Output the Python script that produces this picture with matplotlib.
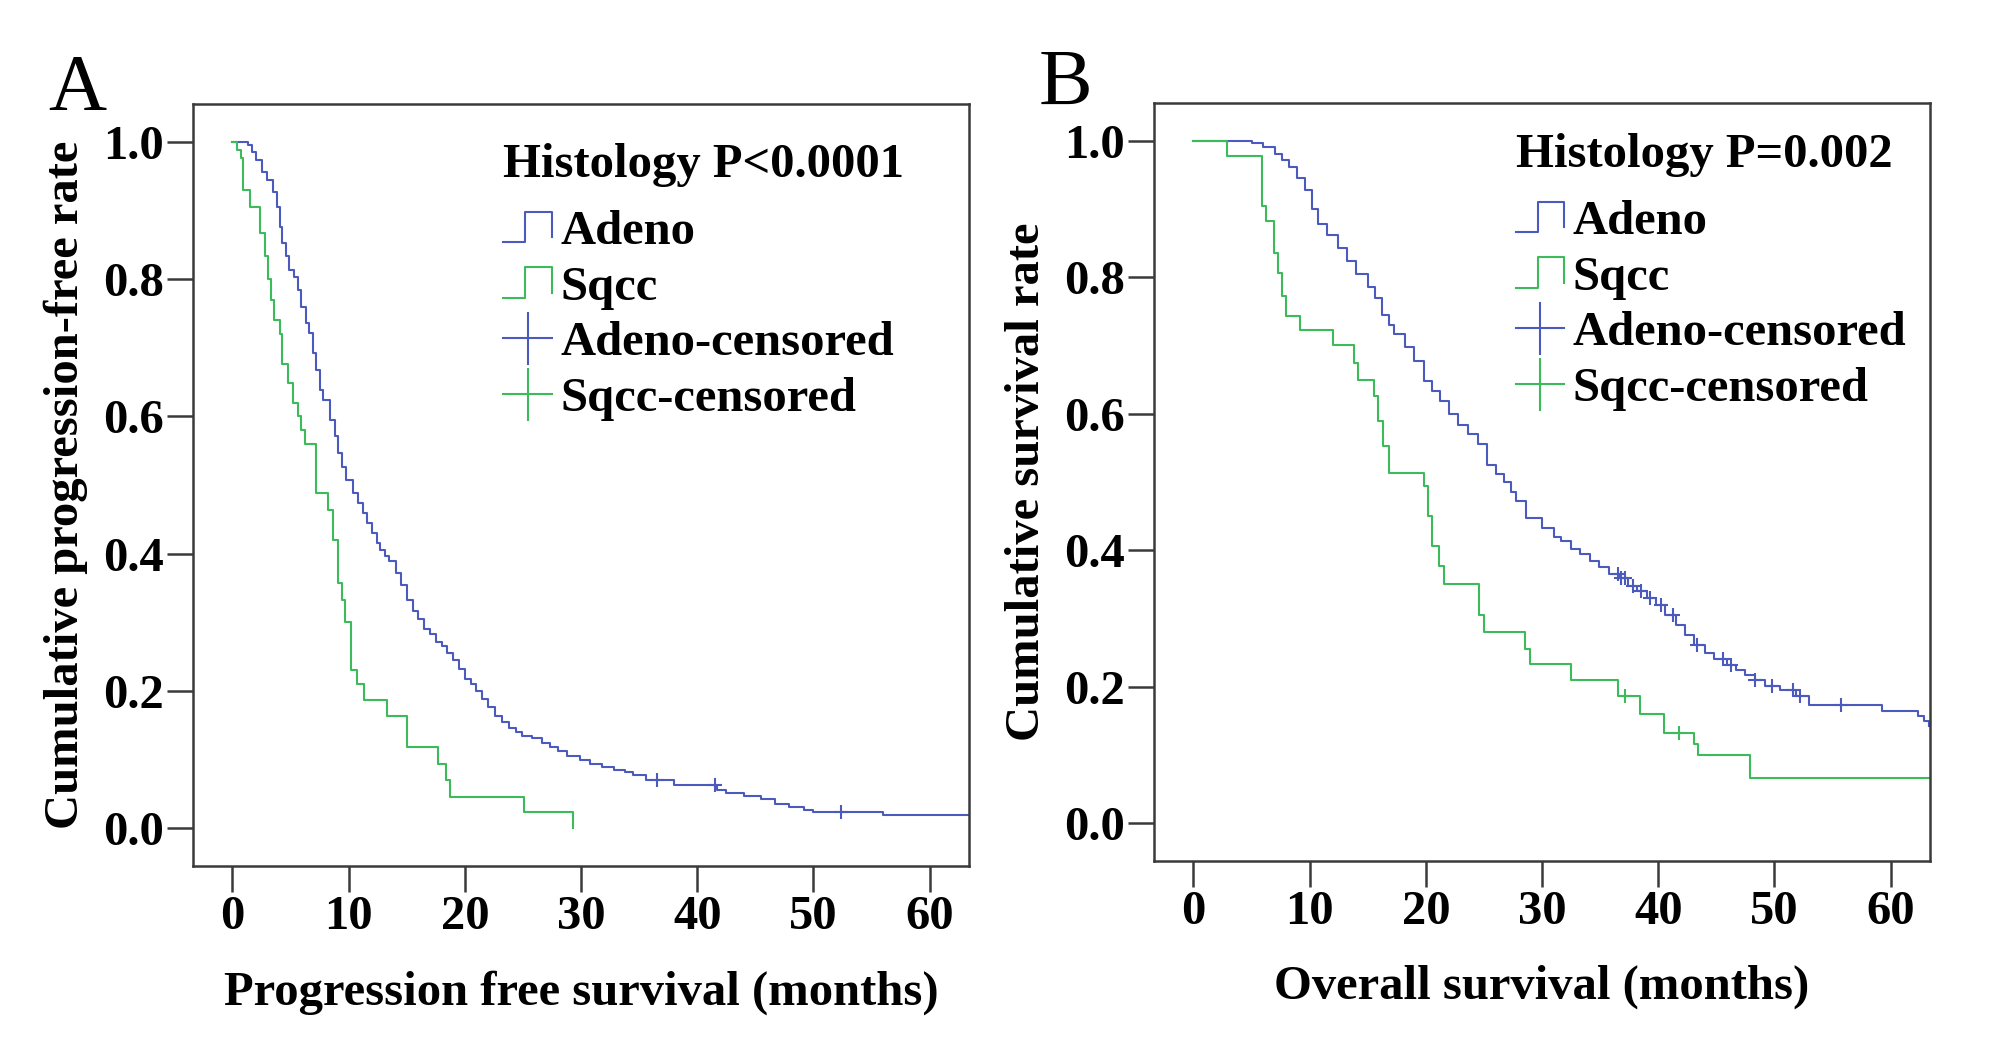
import numpy as np
import matplotlib
matplotlib.use("Agg")
import matplotlib.pyplot as plt
from matplotlib.lines import Line2D
from matplotlib.legend_handler import HandlerBase

plt.rcParams['font.family'] = ['Liberation Serif', 'DejaVu Serif']
plt.rcParams['font.weight'] = 'bold'

BLUE = "#4b5bbd"
GREEN = "#3dba5a"
SPINE = "#3a3a3a"

# Panel A - progression free survival (months, cumulative rate after each step)
pfs_adeno_t = [0, 1.3, 1.7, 2.0, 2.5, 3.0, 3.5, 3.8, 4.05, 4.3, 4.6, 4.9, 5.3, 5.6, 5.9,
               6.35, 6.6, 6.9, 7.2, 7.5, 7.8, 8.4, 8.8, 9.1, 9.4, 9.8, 10.4, 10.8, 11.2,
               11.6, 12.0, 12.4, 12.7, 13.1, 13.5, 14.1, 14.5, 15.0, 15.5, 16.0, 16.5,
               17.0, 17.5, 18.0, 18.5, 19.0, 19.5, 20.0, 20.5, 21.0, 21.5, 22.0, 22.6,
               23.2, 23.8, 24.4, 24.9, 25.8, 26.6, 27.3, 28.0, 28.8, 29.9, 30.8, 31.8,
               32.8, 33.8, 34.5, 35.6, 38.0, 41.7, 42.5, 44.0, 45.5, 46.7, 47.9, 49.2,
               50.0, 56.0, 63.4]
pfs_adeno_s = [1.0, 0.995, 0.985, 0.973, 0.956, 0.944, 0.927, 0.905, 0.876, 0.852, 0.833,
               0.813, 0.803, 0.784, 0.76, 0.736, 0.721, 0.692, 0.668, 0.639, 0.624, 0.595,
               0.571, 0.546, 0.527, 0.508, 0.488, 0.474, 0.459, 0.445, 0.43, 0.416, 0.406,
               0.397, 0.389, 0.372, 0.355, 0.333, 0.317, 0.305, 0.29, 0.283, 0.272, 0.265,
               0.256, 0.245, 0.232, 0.217, 0.21, 0.2, 0.188, 0.176, 0.164, 0.155, 0.146,
               0.14, 0.135, 0.131, 0.124, 0.119, 0.113, 0.106, 0.099, 0.094, 0.09, 0.085,
               0.082, 0.077, 0.070, 0.063, 0.056, 0.051, 0.047, 0.043, 0.036, 0.031, 0.026,
               0.024, 0.019, 0.019]
pfs_adeno_cens = [36.5, 41.5, 52.4]

pfs_sqcc_t = [0, 0.4, 0.75, 0.9, 1.5, 2.4, 2.8, 3.05, 3.3, 3.6, 4.05, 4.3, 4.8, 5.2, 5.6,
              5.9, 6.2, 7.2, 8.2, 8.65, 9.1, 9.4, 9.65, 10.2, 10.75, 11.3, 13.3, 15.0,
              17.7, 18.4, 18.7, 25.1, 29.3]
pfs_sqcc_s = [1.0, 0.988, 0.976, 0.93, 0.905, 0.867, 0.833, 0.80, 0.77, 0.74, 0.72, 0.677,
              0.648, 0.619, 0.60, 0.58, 0.56, 0.488, 0.464, 0.42, 0.357, 0.333, 0.30, 0.23,
              0.21, 0.187, 0.163, 0.118, 0.094, 0.07, 0.046, 0.023, 0.0]
pfs_sqcc_cens = []

# Panel B - overall survival
os_adeno_t = [0, 5.0, 6.0, 7.0, 7.6, 8.2, 8.9, 9.6, 10.2, 10.7, 11.5, 12.4, 13.2, 14.0,
              15.0, 15.6, 16.2, 16.8, 17.3, 18.2, 19.0, 19.8, 20.5, 21.2, 22.0, 22.8,
              23.6, 24.5, 25.3, 26.0, 26.7, 27.3, 27.8, 28.6, 30.0, 31.0, 31.6, 32.5,
              33.3, 34.1, 34.9, 35.8, 36.6, 37.4, 38.2, 39.0, 39.8, 40.6, 41.5, 42.3,
              43.1, 44.0, 44.8, 45.9, 46.7, 47.5, 48.3, 49.2, 50.5, 51.9, 53.0, 59.3,
              62.4, 62.9, 63.3]
os_adeno_s = [1.0, 0.997, 0.99, 0.98, 0.972, 0.962, 0.945, 0.927, 0.9, 0.878, 0.862,
              0.843, 0.823, 0.804, 0.785, 0.77, 0.745, 0.73, 0.717, 0.697, 0.677, 0.648,
              0.633, 0.618, 0.60, 0.584, 0.57, 0.555, 0.525, 0.512, 0.50, 0.485, 0.472,
              0.447, 0.433, 0.42, 0.413, 0.402, 0.394, 0.384, 0.375, 0.366, 0.36, 0.348,
              0.34, 0.33, 0.32, 0.305, 0.29, 0.276, 0.261, 0.25, 0.241, 0.232, 0.224,
              0.217, 0.21, 0.202, 0.195, 0.187, 0.173, 0.164, 0.157, 0.150, 0.143]
os_adeno_cens = [36.5, 36.8, 37.1, 37.8, 38.5, 39.3, 40.2, 41.3, 43.3, 45.6, 46.3,
                 48.3, 49.8, 51.6, 52.2, 55.7]

os_sqcc_t = [0, 2.9, 5.9, 6.2, 6.9, 7.3, 7.6, 8.0, 9.2, 12.0, 13.8, 14.2, 15.5, 15.9,
             16.3, 16.8, 19.8, 20.2, 20.5, 21.1, 21.6, 24.6, 25.0, 28.5, 29.0, 32.5,
             36.5, 38.4, 40.5, 43.1, 43.4, 47.9, 63.4]
os_sqcc_s = [1.0, 0.977, 0.904, 0.882, 0.836, 0.806, 0.772, 0.743, 0.723, 0.70, 0.674,
             0.65, 0.626, 0.59, 0.552, 0.513, 0.494, 0.45, 0.406, 0.377, 0.35, 0.305,
             0.28, 0.256, 0.233, 0.21, 0.186, 0.16, 0.133, 0.116, 0.10, 0.067, 0.067]
os_sqcc_cens = [37.1, 41.8]

x_ticks = [0, 10, 20, 30, 40, 50, 60]
y_ticks = [0.0, 0.2, 0.4, 0.6, 0.8, 1.0]
legend_labels = ["Adeno", "Sqcc", "Adeno-censored", "Sqcc-censored"]

FS = 35


class StepHandler(HandlerBase):
    def create_artists(self, legend, orig_handle, xdescent, ydescent, width, height,
                       fontsize, trans):
        x0, y0 = -xdescent, -ydescent
        xs = [x0, x0 + 0.45 * width, x0 + 0.45 * width, x0 + width, x0 + width]
        ys = [y0 + 0.05 * height, y0 + 0.05 * height, y0 + 0.95 * height,
              y0 + 0.95 * height, y0 + 0.2 * height]
        ln = Line2D(xs, ys, color=orig_handle.get_color(), lw=1.5)
        ln.set_transform(trans)
        return [ln]


class PlusHandler(HandlerBase):
    def create_artists(self, legend, orig_handle, xdescent, ydescent, width, height,
                       fontsize, trans):
        x0, y0 = -xdescent, -ydescent
        h = Line2D([x0, x0 + width], [y0 + 0.5 * height] * 2,
                   color=orig_handle.get_color(), lw=1.5)
        v = Line2D([x0 + 0.5 * width] * 2, [y0 - 0.25 * height, y0 + 1.25 * height],
                   color=orig_handle.get_color(), lw=1.5)
        h.set_transform(trans)
        v.set_transform(trans)
        return [h, v]


def step_value(ts, ss, t):
    i = np.searchsorted(ts, t, side='right') - 1
    return ss[i]


def km_panel(ax, curves, title, xlabel, ylabel, leg_x, title_y, leg_y):
    for ts, ss, cens, col in curves:
        ax.step(ts, ss, where='post', color=col, lw=1.5)
        if cens:
            cy = [step_value(ts, ss, c) for c in cens]
            ax.plot(cens, cy, ls='none', marker='+', ms=10, mew=1.5, color=col)

    ax.set_xlim(-3.4, 63.4)
    ax.set_ylim(-0.055, 1.055)
    ax.set_xticks(x_ticks)
    ax.set_yticks(y_ticks)
    ax.set_yticklabels(["%.1f" % v for v in y_ticks])
    for sp in ax.spines.values():
        sp.set_color(SPINE)
        sp.set_linewidth(1.8)
    ax.tick_params(direction='out', length=19, width=1.8, color=SPINE,
                   labelsize=FS, pad=2)
    ax.set_xlabel(xlabel, fontsize=FS, fontweight='bold', labelpad=22)
    ax.set_ylabel(ylabel, fontsize=FS, fontweight='bold', labelpad=11)

    ax.text(leg_x, title_y, title, transform=ax.transAxes, fontsize=FS,
            fontweight='bold', ha='left', va='baseline')

    h1 = Line2D([], [], color=BLUE)
    h2 = Line2D([], [], color=GREEN)
    h3 = Line2D([], [], color=BLUE)
    h4 = Line2D([], [], color=GREEN)
    ax.legend([h1, h2, h3, h4], legend_labels,
              handler_map={h1: StepHandler(), h2: StepHandler(),
                           h3: PlusHandler(), h4: PlusHandler()},
              prop={'size': FS, 'weight': 'bold'}, frameon=False,
              loc='upper left', bbox_to_anchor=(leg_x, leg_y),
              borderpad=0, borderaxespad=0, handlelength=1.0,
              handletextpad=0.17, labelspacing=0.24)


fig = plt.figure(figsize=(20.08, 10.5), dpi=100)
axA = fig.add_axes([0.0961, 0.1752, 0.3865, 0.7257])
axB = fig.add_axes([0.5747, 0.1800, 0.3865, 0.7219])

km_panel(axA, [(pfs_adeno_t, pfs_adeno_s, pfs_adeno_cens, BLUE),
               (pfs_sqcc_t, pfs_sqcc_s, pfs_sqcc_cens, GREEN)],
         "Histology P<0.0001", "Progression free survival (months)",
         "Cumulative progression-free rate", 0.40, 0.904, 0.861)
km_panel(axB, [(os_adeno_t, os_adeno_s, os_adeno_cens, BLUE),
               (os_sqcc_t, os_sqcc_s, os_sqcc_cens, GREEN)],
         "Histology P=0.002", "Overall survival (months)",
         "Cumulative survival rate", 0.466, 0.916, 0.872)

fig.text(0.024, 0.895, "A", fontsize=58, fontweight='normal', va='baseline')
fig.text(0.517, 0.900, "B", fontsize=58, fontweight='normal', va='baseline')

fig.savefig("out.png", dpi=100, facecolor='white')
